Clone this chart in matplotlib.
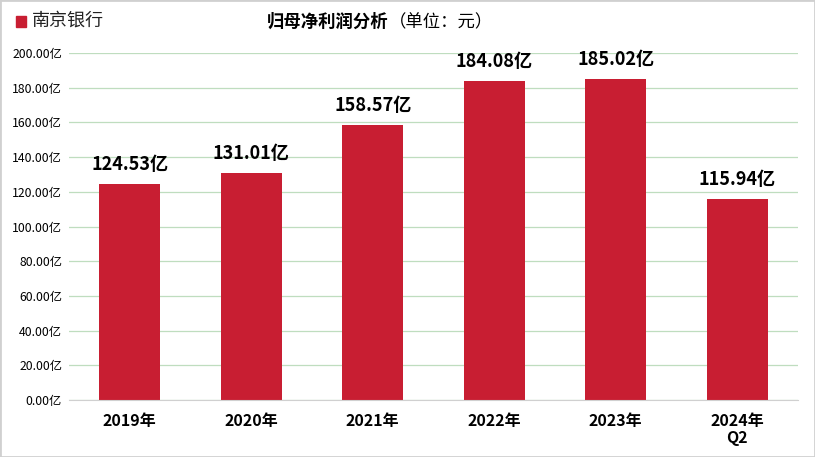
import matplotlib
matplotlib.use('Agg')
import matplotlib.pyplot as plt
from matplotlib.patches import Rectangle

plt.rcParams['font.family'] = ['Noto Sans CJK SC', 'DejaVu Sans']

years = ['2019年', '2020年', '2021年', '2022年', '2023年', '2024年\nQ2']
profit = [124.53, 131.01, 158.57, 184.08, 185.02, 115.94]
y_ticks = [0, 20, 40, 60, 80, 100, 120, 140, 160, 180, 200]

bar_color = '#C81E32'

fig = plt.figure(figsize=(8.15, 4.57), dpi=100)
ax = fig.add_axes([0.0847, 0.1247, 0.8945, 0.7593])

x = list(range(len(years)))
ax.bar(x, profit, width=0.5, color=bar_color, zorder=3)
for xi, v in zip(x, profit):
    ax.annotate('{:.2f}亿'.format(v), (xi, v), xytext=(0, 7),
                textcoords='offset points', ha='center', va='bottom',
                fontsize=13, fontweight='bold', color='black')

ax.set_xlim(-0.5, len(years) - 0.5)
ax.set_ylim(0, 200)
ax.set_yticks(y_ticks)
ax.set_yticklabels(['{:.2f}亿'.format(t) for t in y_ticks], fontsize=8.8)
ax.set_xticks(x)
ax.set_xticklabels(years, fontsize=11.5, fontweight='bold', linespacing=1.15)
ax.tick_params(axis='both', length=0)
ax.tick_params(axis='y', pad=5)
ax.tick_params(axis='x', pad=9)
ax.grid(axis='y', color='#BFDDBF', linewidth=0.9, zorder=0)
for s in ['top', 'right', 'left']:
    ax.spines[s].set_visible(False)
ax.spines['bottom'].set_color('#D0D0D0')
ax.spines['bottom'].set_zorder(4)

# legend and title
fig.patches.append(Rectangle((16 / 815, 1 - 27 / 457), 10 / 815, 11 / 457,
                             transform=fig.transFigure, color=bar_color))
fig.text(32 / 815, 1 - 21 / 457, '南京银行', fontsize=13, va='center',
         ha='left', color='#222222')
fig.text(389 / 815, 1 - 22 / 457, '归母净利润分析', fontsize=12.5, va='center',
         ha='right', fontweight='bold')
fig.text(389 / 815, 1 - 22 / 457, '（单位：元）', fontsize=12.5, va='center',
         ha='left')

fig.patches.append(Rectangle((0, 0), 1, 1, transform=fig.transFigure,
                             fill=False, edgecolor='#D0D0D0', linewidth=2))

fig.savefig('out.png', dpi=100)
